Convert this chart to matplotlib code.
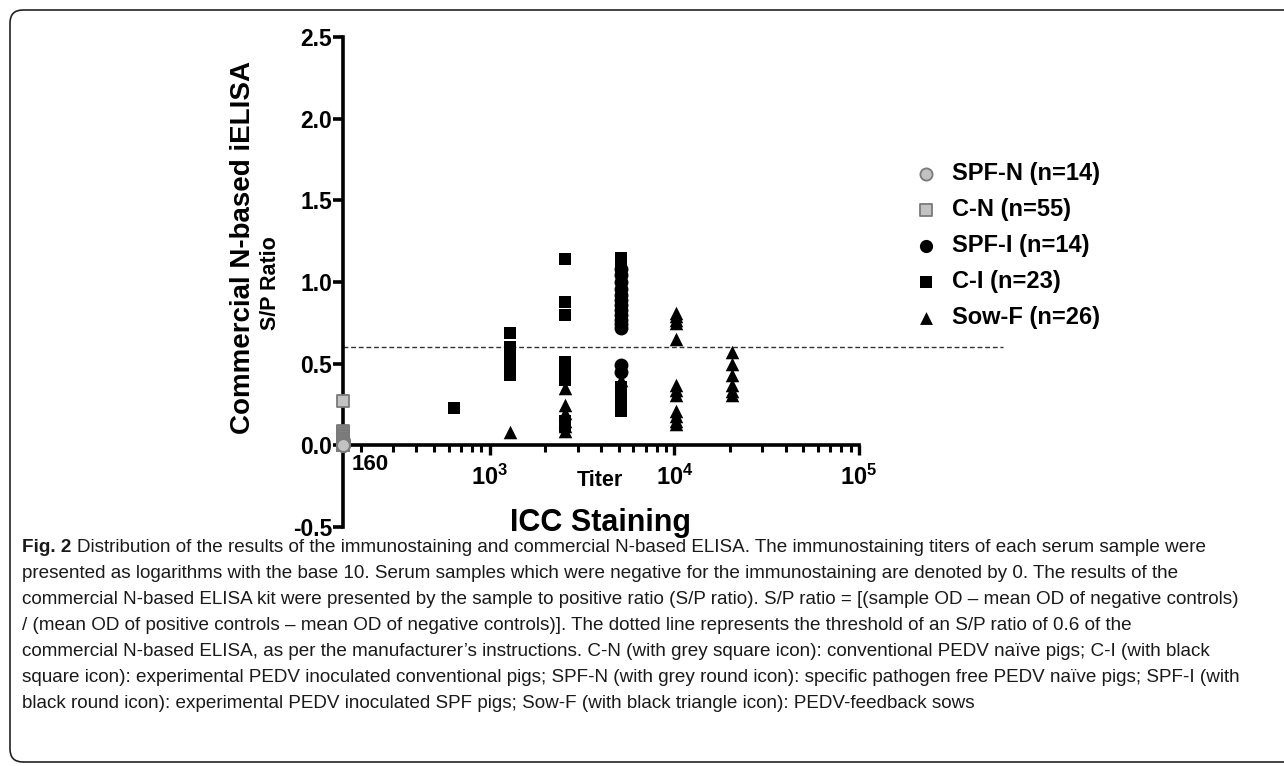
import numpy as np
import matplotlib
matplotlib.use("Agg")
import matplotlib.pyplot as plt
from matplotlib.patches import FancyBboxPatch
from matplotlib.ticker import FixedLocator, NullFormatter

# ---- data (titer, S/P ratio); negatives (titer 0) drawn at the left edge ----
neg_titer = 160

spfn_y = [0.03, 0.02, 0.02, 0.02, 0.01, 0.01, 0.01, 0.01, 0.0, 0.0, 0.0, 0.0, 0.0, 0.0]

cn_y = [0.27, 0.09, 0.08, 0.08, 0.07, 0.07, 0.07, 0.06, 0.06, 0.06, 0.06,
        0.05, 0.05, 0.05, 0.05, 0.05, 0.04, 0.04, 0.04, 0.04, 0.04, 0.04,
        0.03, 0.03, 0.03, 0.03, 0.03, 0.03, 0.03, 0.02, 0.02, 0.02, 0.02,
        0.02, 0.02, 0.02, 0.02, 0.01, 0.01, 0.01, 0.01, 0.01, 0.01, 0.01,
        0.01, 0.01, 0.0, 0.0, 0.0, 0.0, 0.0, 0.0, 0.0, 0.0, 0.0]

spfi_x = [5120] * 14
spfi_y = [1.08, 1.04, 1.00, 0.96, 0.92, 0.89, 0.86, 0.83, 0.80, 0.77, 0.74, 0.72, 0.49, 0.45]

ci_x = [640, 1280, 1280, 1280, 1280, 1280, 1280,
        2560, 2560, 2560, 2560, 2560, 2560, 2560, 2560, 2560, 2560,
        5120, 5120, 5120, 5120, 5120, 5120]
ci_y = [0.23, 0.69, 0.60, 0.57, 0.50, 0.46, 0.43,
        1.14, 0.88, 0.80, 0.51, 0.48, 0.45, 0.42, 0.40, 0.15, 0.12,
        1.15, 1.12, 0.36, 0.32, 0.28, 0.21]

sow_x = [1280, 2560, 2560, 2560, 2560, 2560, 2560, 5120,
         10240, 10240, 10240, 10240, 10240, 10240, 10240, 10240, 10240, 10240, 10240, 10240,
         20480, 20480, 20480, 20480, 20480, 20480]
sow_y = [0.08, 0.35, 0.25, 0.20, 0.15, 0.12, 0.09, 0.40,
         0.81, 0.79, 0.77, 0.75, 0.65, 0.37, 0.34, 0.31, 0.21, 0.18, 0.15, 0.13,
         0.57, 0.50, 0.43, 0.37, 0.33, 0.31]

labels = ["SPF-N (n=14)", "C-N (n=55)", "SPF-I (n=14)", "C-I (n=23)", "Sow-F (n=26)"]
cutoff = 0.6

caption = [
    "Distribution of the results of the immunostaining and commercial N-based ELISA. The immunostaining titers of each serum sample were",
    "presented as logarithms with the base 10. Serum samples which were negative for the immunostaining are denoted by 0. The results of the",
    "commercial N-based ELISA kit were presented by the sample to positive ratio (S/P ratio). S/P ratio = [(sample OD \u2013 mean OD of negative controls)",
    "/ (mean OD of positive controls \u2013 mean OD of negative controls)]. The dotted line represents the threshold of an S/P ratio of 0.6 of the",
    "commercial N-based ELISA, as per the manufacturer\u2019s instructions. C-N (with grey square icon): conventional PEDV na\u00efve pigs; C-I (with black",
    "square icon): experimental PEDV inoculated conventional pigs; SPF-N (with grey round icon): specific pathogen free PEDV na\u00efve pigs; SPF-I (with",
    "black round icon): experimental PEDV inoculated SPF pigs; Sow-F (with black triangle icon): PEDV-feedback sows",
]

plt.rcParams['font.family'] = ['Liberation Sans', 'DejaVu Sans']
plt.rcParams['mathtext.fontset'] = 'custom'
plt.rcParams['mathtext.rm'] = 'Liberation Sans'
plt.rcParams['mathtext.bf'] = 'Liberation Sans:bold'

W, H = 1284, 766
fig = plt.figure(figsize=(W / 100, H / 100), dpi=100)


def fx(x):
    return x / W


def fy(y):
    return 1 - y / H


ax = fig.add_axes([fx(343), fy(527), 516 / W, 490 / H])
ax.set_xscale('log')
ax.set_xlim(160, 1e5)
ax.set_ylim(-0.5, 2.5)

for s in ['top', 'right']:
    ax.spines[s].set_visible(False)
ax.spines['left'].set_linewidth(2.6)
ax.spines['bottom'].set_linewidth(2.6)
ax.spines['bottom'].set_position(('data', 0))
ax.spines['left'].set_capstyle('projecting')
ax.spines['bottom'].set_capstyle('projecting')

ax.set_yticks([-0.5, 0.0, 0.5, 1.0, 1.5, 2.0, 2.5])
ax.set_yticklabels(['-0.5', '0.0', '0.5', '1.0', '1.5', '2.0', '2.5'],
                   fontsize=16.5, fontweight='bold')
ax.tick_params(axis='y', direction='out', length=7.5, width=2.6, pad=0.5)

ax.xaxis.set_major_locator(FixedLocator([1e3, 1e4, 1e5]))
ax.set_xticklabels([r'$\mathbf{10^3}$', r'$\mathbf{10^4}$', r'$\mathbf{10^5}$'], fontsize=17)
minors = [m * 10 ** d for d in (2, 3, 4) for m in range(2, 10) if 160 < m * 10 ** d < 1e5]
ax.xaxis.set_minor_locator(FixedLocator(minors))
ax.xaxis.set_minor_formatter(NullFormatter())
ax.tick_params(axis='x', which='major', direction='out', length=7, width=2.4, pad=7)
ax.tick_params(axis='x', which='minor', direction='out', length=5, width=2.2)
ax.text(178, -0.055, '160', fontsize=16, fontweight='bold', ha='left', va='top')

# threshold line, running on into the legend area
ax.plot([0, 1.28], [cutoff, cutoff], transform=ax.get_yaxis_transform(),
        ls=(0, (3.5, 2)), lw=1.0, color='#333333', clip_on=False, zorder=1)

grey_face, grey_edge = '#c2c2c2', '#7a7a7a'
h_cn = ax.scatter([neg_titer] * len(cn_y), cn_y, marker='s', s=80, facecolor=grey_face,
                  edgecolor=grey_edge, linewidth=1.3, clip_on=False, zorder=5)
h_spfn = ax.scatter([neg_titer] * len(spfn_y), spfn_y, marker='o', s=85, facecolor=grey_face,
                    edgecolor=grey_edge, linewidth=1.3, clip_on=False, zorder=6)
h_ci = ax.scatter(ci_x, ci_y, marker='s', s=80, color='black', linewidth=0, zorder=3)
h_spfi = ax.scatter(spfi_x, spfi_y, marker='o', s=100, color='black', linewidth=0, zorder=3)
h_sow = ax.scatter(sow_x, sow_y, marker='^', s=95, color='black', linewidth=0, zorder=3)

fig.legend([h_spfn, h_cn, h_spfi, h_ci, h_sow], labels, loc='upper left',
           bbox_to_anchor=(fx(898), fy(153)), frameon=False,
           prop={'weight': 'bold', 'size': 17}, handletextpad=0.3, handlelength=1.6,
           labelspacing=0.55, markerscale=0.95, borderaxespad=0)

# axis titles
fig.text(fx(243), fy(248), 'Commercial N-based iELISA', rotation=90, fontsize=20,
         fontweight='bold', ha='center', va='center')
fig.text(fx(270), fy(283), 'S/P Ratio', rotation=90, fontsize=15.5,
         fontweight='bold', ha='center', va='center')
fig.text(fx(600), fy(480), 'Titer', fontsize=15.5, fontweight='bold', ha='center', va='center')
fig.text(fx(600), fy(523), 'ICC Staining', fontsize=22, fontweight='bold', ha='center', va='center')

# frame around the figure panel
frame = FancyBboxPatch((0.10, 0.04), 13.5, 7.52, boxstyle='round,pad=0,rounding_size=0.13',
                       transform=fig.dpi_scale_trans, fill=False, lw=1.2, ec='#222222')
fig.patches.append(frame)

# caption
cap_font = ['Liberation Sans Narrow', 'Liberation Sans', 'DejaVu Sans']
cap_size = 13.6
fig.canvas.draw()
r = fig.canvas.get_renderer()
lead = fig.text(fx(22), fy(548), 'Fig. 2 ', fontsize=cap_size, fontweight='bold',
                family=cap_font, va='center', color='#1a1a1a')
bb = lead.get_window_extent(renderer=r)
fig.text(bb.x1 / W, fy(548), caption[0], fontsize=cap_size, family=cap_font, va='center', color='#1a1a1a')
for i, line in enumerate(caption[1:], start=1):
    fig.text(fx(22), fy(548 + 26 * i), line, fontsize=cap_size, family=cap_font,
             va='center', color='#1a1a1a')

fig.savefig('out.png', dpi=100)
